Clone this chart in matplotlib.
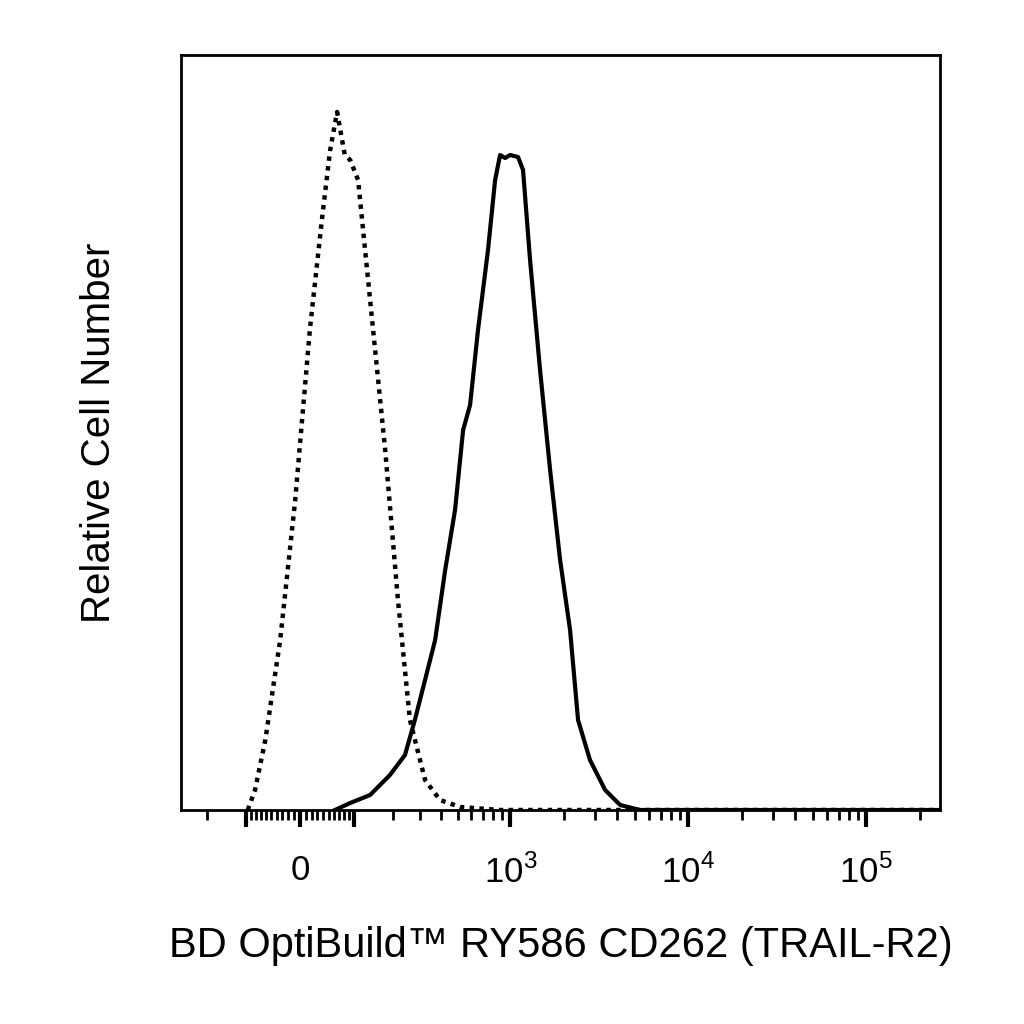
import numpy as np
import matplotlib
matplotlib.use("Agg")
import matplotlib.pyplot as plt
from matplotlib.ticker import FixedLocator, FixedFormatter

plt.rcParams['font.family'] = ['Liberation Sans', 'DejaVu Sans']
plt.rcParams['mathtext.fontset'] = 'custom'
plt.rcParams['mathtext.rm'] = 'Liberation Sans'

# Isotype control (dotted)
iso_x = [-96, -81, -61, -34, -8, 17, 38, 53, 66, 81, 92, 109, 137, 177, 216, 258, 320, 393, 516, 874, 260000]
iso_y = [0, 20, 70, 170, 310, 480, 590, 660, 698, 655, 650, 630, 510, 360, 210, 90, 30, 10, 3, 0, 0]
# Stained (solid)
st_x = [62, 92, 137, 191, 240, 277, 320, 368, 422, 482, 537, 589, 654, 746, 819, 874, 933, 996, 1105, 1179,
        1292, 1471, 1676, 1908, 2171, 2408, 2810, 3419, 4150, 5370, 260000]
st_y = [0, 7, 15, 35, 55, 90, 130, 170, 240, 300, 380, 405, 480, 560, 630, 655, 652, 655, 653, 640,
        550, 440, 340, 250, 180, 90, 50, 20, 5, 0, 0]

C = 66.0
def fwd(x):
    x = np.asarray(x, float)
    return np.log10((x + np.sqrt(x * x + 4 * C * C)) / 2)
def inv(f):
    y = 10 ** np.asarray(f, float)
    return y - C * C / y

fig = plt.figure(figsize=(10.24, 10.24), dpi=100)
ax = fig.add_axes([181/1024, 1 - 810/1024, (940-181)/1024, (810-55)/1024])
ax.set_xscale('function', functions=(fwd, inv))
ax.plot(iso_x, iso_y, color='black', lw=3.2, linestyle=(0, (1, 1.2)))
ax.plot(st_x, st_y, color='black', lw=3)
ax.set_xlim(-293, 260000)
ax.set_ylim(0, 755)

major = [-100, 0, 100, 1000, 10000, 100000]
minor = [-90, -80, -70, -60, -50, -40, -30, -20, -10, 10, 20, 30, 40, 50, 60, 70, 80, 90,
         -200]
for dec in [100, 1000, 10000, 100000]:
    minor += [k * dec for k in range(2, 10)]
minor = [m for m in minor if -293 < m < 260000]
ax.xaxis.set_major_locator(FixedLocator(major))
ax.xaxis.set_major_formatter(FixedFormatter(['', '0', '', r'$10^{3}$', r'$10^{4}$', r'$10^{5}$']))
ax.xaxis.set_minor_locator(FixedLocator(minor))
ax.tick_params(axis='x', which='major', length=12, width=3, labelsize=25, pad=20, direction='out')
ax.tick_params(axis='x', which='minor', length=7, width=2, direction='out')
ax.set_yticks([])
for s in ax.spines.values():
    s.set_linewidth(2)
ax.set_xlabel('BD OptiBuild™ RY586 CD262 (TRAIL-R2)', fontsize=30, labelpad=26)
ax.set_ylabel('Relative Cell Number', fontsize=29, labelpad=45)
fig.savefig('out.png', dpi=100)
